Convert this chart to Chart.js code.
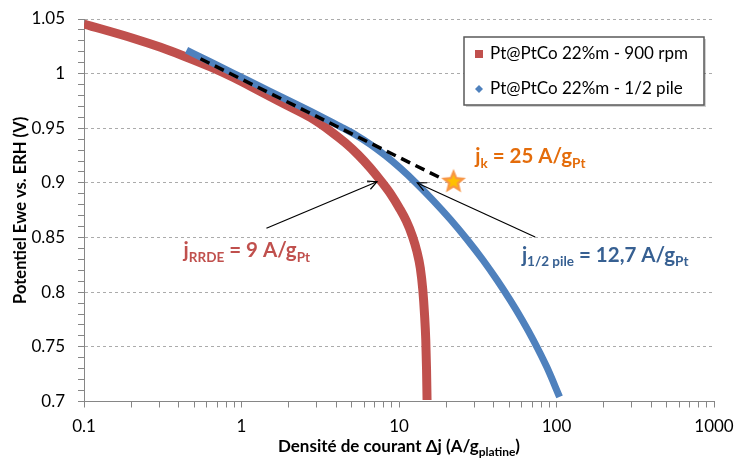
<!DOCTYPE html>
<html><head><meta charset="utf-8">
<script src="https://cdn.jsdelivr.net/npm/chart.js@4/dist/chart.umd.min.js"></script>
<style>html,body{margin:0;padding:0;background:#fff}#wrap{width:737px;height:460px;position:relative}</style>
</head><body><div id="wrap"><canvas id="c" width="737" height="460"></canvas></div>
<script>
// ---- data ----
const seriesNames = ['Pt@PtCo 22%m - 900 rpm', 'Pt@PtCo 22%m - 1/2 pile'];
const rrdeJ = [0.1, 0.2066, 0.3064, 0.4286, 0.636, 0.8898, 1.32, 1.901, 2.738, 3.667, 4.565, 5.52, 6.577, 7.724, 8.936, 10.04, 11.12, 12.15, 12.97, 13.65, 14.16, 14.53, 14.79, 14.96, 15.07];
const rrdeE = [1.0454, 1.0322, 1.0241, 1.0162, 1.0062, 0.9965, 0.9837, 0.9718, 0.9599, 0.9475, 0.9366, 0.9256, 0.9137, 0.9013, 0.889, 0.8771, 0.8652, 0.8515, 0.8377, 0.8222, 0.8021, 0.7792, 0.7563, 0.7289, 0.7014];
const pileJ = [0.4479, 0.636, 0.8898, 1.32, 1.901, 2.738, 3.411, 4.244, 5.284, 6.577, 8.188, 10.19, 13.06, 16.5, 21.15, 26.99, 34.39, 42.02, 50.79, 60.52, 71.38, 86.8, 104.6];
const pileE = [1.0216, 1.0107, 1.0003, 0.9881, 0.9768, 0.9656, 0.9587, 0.9516, 0.9441, 0.9353, 0.925, 0.9135, 0.8989, 0.8839, 0.8668, 0.8485, 0.8288, 0.8109, 0.7927, 0.7746, 0.756, 0.7315, 0.7042];
const tafelJ = [0.549, 18.7];
const tafelE = [1.0136, 0.904];
const starJ = [22.2];
const starE = [0.901];
const xTickValues = [0.1, 1, 10, 100, 1000];
const xTickLabels = ['0.1', '1', '10', '100', '1000'];
const yTickValues = [0.7, 0.75, 0.8, 0.85, 0.9, 0.95, 1, 1.05];
const yTickLabels = ['0.7', '0.75', '0.8', '0.85', '0.9', '0.95', '1', '1.05'];
const arrowFromJ = [1.44, 73.2];
const arrowFromE = [0.8585, 0.8505];
const arrowToJ = [7.25, 13.06];
const arrowToE = [0.9011, 0.900];
const noteTexts = [
  [['j', 0], ['RRDE', 1], [' = 9 A/g', 0], ['Pt', 1]],
  [['j', 0], ['k', 1], [' = 25 A/g', 0], ['Pt', 1]],
  [['j', 0], ['1/2 pile', 1], [' = 12,7 A/g', 0], ['Pt', 1]]
];
const noteJ = [0.429, 30.5, 60.3];
const noteE = [0.8318, 0.918, 0.8277];

// ---- styles ----
const RED = '#C0504D', BLUE = '#4F81BD';
const noteColors = ['#C0504D', '#E46C0A', '#376092'];
const FONT = 'Lato, "Open Sans", sans-serif';
const AXIS = '#868686';

function toXY(xs, ys) { return xs.map((x, i) => ({x: x, y: ys[i]})); }

function makeStar(r) {
  const c = document.createElement('canvas');
  c.width = c.height = 2 * r + 4;
  const g = c.getContext('2d');
  const cx = r + 2, cy = r + 2;
  function path(R, ri) {
    g.beginPath();
    for (let i = 0; i < 10; i++) {
      const a = -Math.PI / 2 + i * Math.PI / 5;
      const rr = i % 2 ? ri : R;
      g.lineTo(cx + rr * Math.cos(a), cy + rr * Math.sin(a));
    }
    g.closePath();
  }
  path(r, r * 0.45);
  g.fillStyle = '#F79646'; g.fill();
  path(r * 0.55, r * 0.25);
  g.fillStyle = '#FFC000'; g.fill();
  return c;
}

const isMajorY = v => yTickValues.some(t => Math.abs(t - v) < 1e-6);

const overlay = {
  id: 'overlay',
  afterDatasetsDraw(chart) {
    const ctx = chart.ctx;
    const xs = chart.scales.x, ys = chart.scales.y;
    ctx.save();
    // arrows
    ctx.strokeStyle = '#000'; ctx.lineWidth = 1.2;
    for (let i = 0; i < arrowFromJ.length; i++) {
      const x1 = xs.getPixelForValue(arrowFromJ[i]), y1 = ys.getPixelForValue(arrowFromE[i]);
      const x2 = xs.getPixelForValue(arrowToJ[i]), y2 = ys.getPixelForValue(arrowToE[i]);
      ctx.beginPath(); ctx.moveTo(x1, y1); ctx.lineTo(x2, y2); ctx.stroke();
      const a = Math.atan2(y2 - y1, x2 - x1), L = 10, w = 0.45;
      ctx.beginPath();
      ctx.moveTo(x2 - L * Math.cos(a - w), y2 - L * Math.sin(a - w));
      ctx.lineTo(x2, y2);
      ctx.lineTo(x2 - L * Math.cos(a + w), y2 - L * Math.sin(a + w));
      ctx.stroke();
    }
    // annotation texts
    for (let i = 0; i < noteTexts.length; i++) {
      let x = xs.getPixelForValue(noteJ[i]);
      const y = ys.getPixelForValue(noteE[i]);
      ctx.fillStyle = noteColors[i];
      ctx.textBaseline = 'alphabetic'; ctx.textAlign = 'left';
      for (const [t, sub] of noteTexts[i]) {
        ctx.font = sub ? 'bold 13.5px ' + FONT : 'bold 20.5px ' + FONT;
        ctx.fillText(t, x, y + (sub ? 4.5 : 0));
        x += ctx.measureText(t).width;
      }
    }
    // legend
    const lx = 464, ly = 37, lw = 240, lh = 68;
    ctx.fillStyle = 'rgba(0,0,0,0.18)';
    ctx.fillRect(lx + 2, ly + 2, lw, lh);
    ctx.fillStyle = '#fff';
    ctx.fillRect(lx, ly, lw, lh);
    ctx.strokeStyle = '#595959'; ctx.lineWidth = 1.5;
    ctx.strokeRect(lx, ly, lw, lh);
    ctx.font = '17px ' + FONT; ctx.textBaseline = 'middle';
    chart.data.datasets.slice(0, 2).forEach((ds, i) => {
      const cy = ly + 17 + i * 35;
      ctx.fillStyle = ds.borderColor;
      if (ds.pointStyle === 'rect') ctx.fillRect(lx + 11, cy - 4, 8, 8);
      else { ctx.beginPath(); ctx.moveTo(lx + 15, cy - 4); ctx.lineTo(lx + 19, cy); ctx.lineTo(lx + 15, cy + 4); ctx.lineTo(lx + 11, cy); ctx.closePath(); ctx.fill(); }
      ctx.fillStyle = '#000';
      ctx.fillText(ds.label, lx + 26, cy);
    });
    // x axis title with subscript
    const parts = [['Densité de courant Δj (A/g', 0], ['platine', 1], [')', 0]];
    let tw = 0;
    for (const [t, s] of parts) { ctx.font = (s ? 'bold 12px ' : 'bold 17px ') + FONT; tw += ctx.measureText(t).width; }
    let tx = (chart.chartArea.left + chart.chartArea.right) / 2 - tw / 2;
    ctx.fillStyle = '#000'; ctx.textBaseline = 'alphabetic';
    for (const [t, s] of parts) {
      ctx.font = (s ? 'bold 12px ' : 'bold 17px ') + FONT;
      ctx.fillText(t, tx, 452 + (s ? 4 : 0));
      tx += ctx.measureText(t).width;
    }
    ctx.restore();
  }
};

new Chart(document.getElementById('c'), {
  type: 'scatter',
  data: {
    datasets: [
      { label: seriesNames[0], data: toXY(rrdeJ, rrdeE), showLine: true, borderColor: RED, backgroundColor: RED,
        borderWidth: 9, pointRadius: 0, pointStyle: 'rect', cubicInterpolationMode: 'monotone', order: 2 },
      { label: seriesNames[1], data: toXY(pileJ, pileE), showLine: true, borderColor: BLUE, backgroundColor: BLUE,
        borderWidth: 7, pointRadius: 0, pointStyle: 'rectRot', cubicInterpolationMode: 'monotone', order: 1 },
      { label: 'Tafel', data: toXY(tafelJ, tafelE), showLine: true, borderColor: '#000', borderWidth: 3.5,
        borderDash: [10, 6], pointRadius: 0, order: 0 },
      { label: 'jk', data: toXY(starJ, starE), showLine: false, pointStyle: makeStar(13), pointRadius: 13, order: -1 }
    ]
  },
  options: {
    responsive: false, animation: false,
    layout: { padding: { left: 0, top: 19, right: 23, bottom: 0 } },
    plugins: { legend: { display: false }, tooltip: { enabled: false } },
    scales: {
      x: {
        type: 'logarithmic', min: 0.1, max: 1000,
        afterBuildTicks(s) {
          const t = [];
          for (let d = -1; d <= 2; d++) for (let m = 1; m <= 9; m++) t.push({ value: parseFloat((m * Math.pow(10, d)).toPrecision(3)) });
          t.push({ value: 1000 });
          s.ticks = t;
        },
        afterFit(s) { s.height = 58.5; s.paddingLeft = 0; s.paddingRight = 0; },
        ticks: {
          autoSkip: false, maxRotation: 0, padding: 9, color: '#000', font: { family: FONT, size: 17 },
          callback(v) { const i = xTickValues.findIndex(t => Math.abs(t - v) / t < 1e-6); return i >= 0 ? xTickLabels[i] : ''; }
        },
        grid: { drawOnChartArea: false, drawTicks: true, tickLength: 6, tickColor: AXIS, color: AXIS },
        border: { color: AXIS, width: 1 },
        title: { display: false }
      },
      y: {
        min: 0.7, max: 1.05,
        afterBuildTicks(s) {
          const t = [];
          for (let k = 70; k <= 105; k++) t.push({ value: k / 100 });
          s.ticks = t;
        },
        afterFit(s) { s.width = 84; s.paddingTop = 0; s.paddingBottom = 0; },
        ticks: {
          autoSkip: false, padding: 13, color: '#000', font: { family: FONT, size: 17 },
          callback(v) { const i = yTickValues.findIndex(t => Math.abs(t - v) < 1e-6); return i >= 0 ? yTickLabels[i] : ''; }
        },
        grid: {
          drawTicks: true, tickLength: 6, tickColor: AXIS, lineWidth: 1,
          color(ctx) { const v = ctx.tick ? ctx.tick.value : 0; return (isMajorY(v) && v > 0.705) ? '#ABABAB' : 'rgba(0,0,0,0)'; }
        },
        border: { color: AXIS, width: 1, dash: [3, 3] },
        title: { display: true, text: 'Potentiel Ewe vs. ERH (V)', color: '#000', font: { family: FONT, size: 16.5, weight: 'bold' }, padding: { top: 11, bottom: 0 } }
      }
    }
  },
  plugins: [overlay]
});
</script></body></html>
